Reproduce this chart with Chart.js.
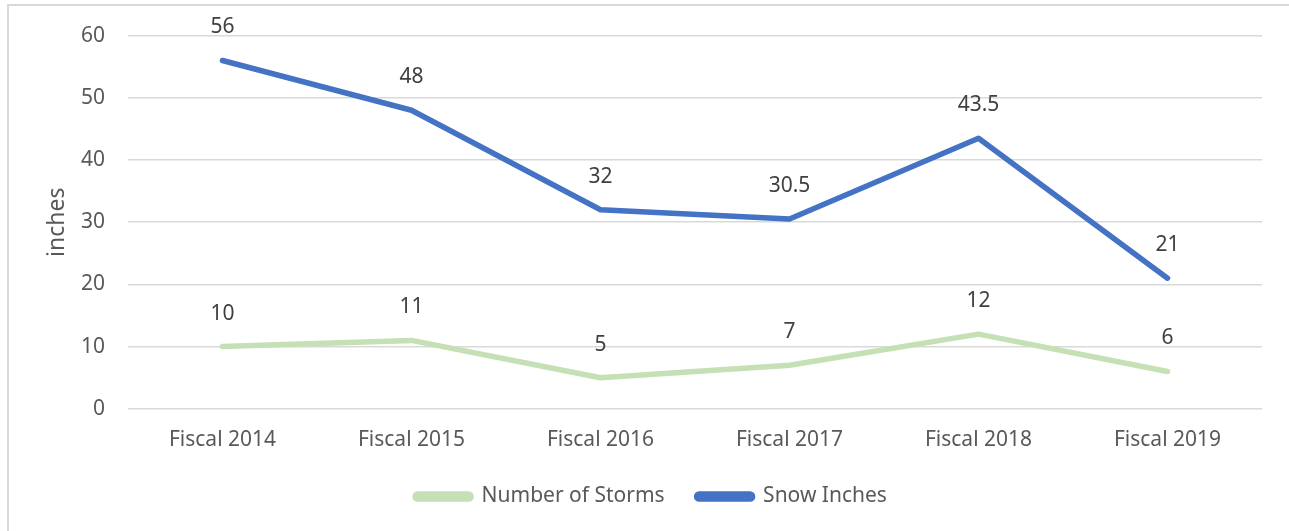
<!DOCTYPE html>
<html>
<head>
<meta charset="utf-8">
<script src="https://cdn.jsdelivr.net/npm/chart.js@4/dist/chart.umd.min.js"></script>
<style>
  html, body { margin: 0; padding: 0; background: #fff; }
  #wrap { width: 1289px; height: 531px; position: relative; }
</style>
</head>
<body>
<div id="wrap"><canvas id="snowChart"></canvas></div>
<script>
const categories = ['Fiscal 2014', 'Fiscal 2015', 'Fiscal 2016', 'Fiscal 2017', 'Fiscal 2018', 'Fiscal 2019'];
const stormCounts = [10, 11, 5, 7, 12, 6];
const snowInches = [56, 48, 32, 30.5, 43.5, 21];
const yTicks = [0, 10, 20, 30, 40, 50, 60];

const FONT = '"Noto Sans", "DejaVu Sans", sans-serif';
const GREY_TEXT = '#595959';

// outer frame (only top and left edges show in the reference)
const framePlugin = {
    id: 'frame',
    beforeDraw(chart) {
        const ctx = chart.ctx;
        ctx.save();
        ctx.fillStyle = '#fff';
        ctx.fillRect(0, 0, chart.width, chart.height);
        ctx.strokeStyle = '#d9d9d9';
        ctx.lineWidth = 2;
        ctx.strokeRect(8, 5, chart.width + 20, chart.height + 20);
        ctx.restore();
    },
};

// value labels above each point
const valueLabels = {
    id: 'valueLabels',
    afterDatasetsDraw(chart) {
        const ctx = chart.ctx;
        ctx.save();
        ctx.font = '21px ' + FONT;
        ctx.fillStyle = '#404040';
        ctx.textAlign = 'center';
        ctx.textBaseline = 'middle';
        chart.data.datasets.forEach((ds, i) => {
            chart.getDatasetMeta(i).data.forEach((pt, j) => {
                ctx.fillText(String(ds.data[j]), pt.x, pt.y - 33);
            });
        });
        ctx.restore();
    },
};

const canvasElement = document.getElementById('snowChart');

let config = {
    type: 'line',
    data: {
        labels: categories,
        datasets: [
            {
                label: 'Number of Storms',
                data: stormCounts,
                borderColor: '#c5e0b4',
                backgroundColor: '#c5e0b4',
                borderWidth: 5.5,
                borderCapStyle: 'round',
                borderJoinStyle: 'round',
                pointRadius: 0,
                tension: 0,
            },
            {
                label: 'Snow Inches',
                data: snowInches,
                borderColor: '#4472c4',
                backgroundColor: '#4472c4',
                borderWidth: 5.5,
                borderCapStyle: 'round',
                borderJoinStyle: 'round',
                pointRadius: 0,
                tension: 0,
            },
        ],
    },
    options: {
        responsive: true,
        maintainAspectRatio: false,
        animation: false,
        layout: {
            padding: { top: 33, right: 27, bottom: 14, left: 40 },
        },
        plugins: {
            legend: {
                position: 'bottom',
                labels: {
                    boxWidth: 56,
                    boxHeight: 5,
                    useBorderRadius: true,
                    borderRadius: 2.5,
                    color: GREY_TEXT,
                    font: { family: FONT, size: 21 },
                    padding: 32,
                },
            },
            tooltip: { enabled: false },
        },
        scales: {
            x: {
                offset: true,
                grid: { display: false, offset: true },
                border: { display: false },
                afterFit(scale) {
                    scale.height -= 10;
                },
                ticks: {
                    color: GREY_TEXT,
                    font: { family: FONT, size: 21 },
                    padding: 11,
                },
            },
            y: {
                min: 0,
                max: 60,
                afterBuildTicks(scale) {
                    scale.ticks = yTicks.map(v => ({ value: v }));
                },
                afterFit(scale) {
                    scale.width = 88;
                },
                grid: { color: '#d9d9d9', lineWidth: 1.5, drawTicks: false },
                border: { display: false },
                ticks: {
                    color: GREY_TEXT,
                    font: { family: FONT, size: 21 },
                    padding: 23,
                },
                title: {
                    display: true,
                    text: 'inches',
                    color: GREY_TEXT,
                    font: { family: FONT, size: 23 },
                    padding: { top: 4, bottom: 0 },
                },
            },
        },
    },
    plugins: [framePlugin, valueLabels],
};
const snowChart = new Chart(canvasElement, config);
</script>
</body>
</html>
